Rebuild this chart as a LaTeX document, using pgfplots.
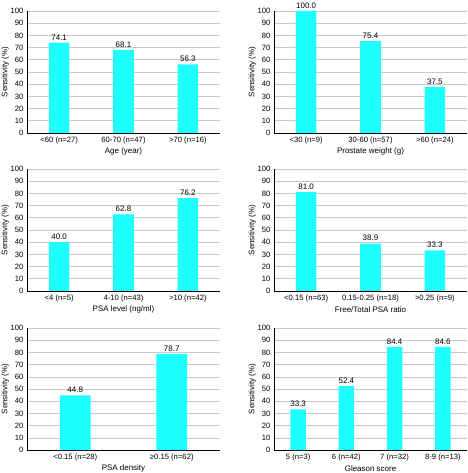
\documentclass[border=0pt]{standalone}
\usepackage{fontspec}
\setmainfont{Liberation Sans}
\usepackage{pgfplots}
\pgfplotsset{compat=1.18}
\definecolor{barcyan}{RGB}{30,255,255}
\definecolor{gridgrey}{RGB}{200,200,200}
\pgfplotsset{
  panel/.style={
    scale only axis, width=193bp, height=122bp,
    anchor=south west,
    ymin=0, ymax=100, ytick={0,10,...,100},
    xtick=data,
    axis x line*=bottom, axis y line*=left,
    axis line style={black, line width=0.8pt},
    ymajorgrids, grid style={gridgrey, line width=0.6pt},
    major tick length=0pt,
    tick label style={font=\fontsize{7.7}{8}\selectfont},
    label style={font=\fontsize{8}{9}\selectfont},
    /pgf/number format/assume math mode=true,
    ylabel={Sensitivity (\%)},
    ylabel style={at={(axis description cs:-0.112,0.5)}, anchor=center},
    xlabel style={at={(axis description cs:0.5,0)}, anchor=center, yshift=-18.5bp},
    ybar, bar width=0.32,
    clip=false,
    nodes near coords={\pgfmathprintnumber[fixed,fixed zerofill,precision=1,assume math mode=true]{\pgfplotspointmeta}},
    every node near coord/.append style={font=\fontsize{8}{9}\selectfont, black, yshift=-1pt},
  },
  cbar/.style={fill=barcyan, draw=none},
}
\begin{document}
\begin{tikzpicture}
\useasboundingbox (0,0) rectangle (468bp,473bp);
% Row 1 left
\begin{axis}[panel, at={(27bp,340bp)}, xmin=-0.5, xmax=2.5,
  xticklabels={<60 (n=27), 60-70 (n=47), >70 (n=16)}, xlabel={Age (year)}]
\addplot[cbar] coordinates {(0,74.1) (1,68.1) (2,56.3)};
\end{axis}
% Row 1 right
\begin{axis}[panel, at={(274bp,340bp)}, xmin=-0.5, xmax=2.5,
  xticklabels={<30 (n=9), 30-60 (n=57), >60 (n=24)}, xlabel={Prostate weight (g)}]
\addplot[cbar] coordinates {(0,100.0) (1,75.4) (2,37.5)};
\end{axis}
% Row 2 left
\begin{axis}[panel, at={(27bp,182bp)}, xmin=-0.5, xmax=2.5,
  xticklabels={<4 (n=5), 4-10 (n=43), >10 (n=42)}, xlabel={PSA level (ng/ml)}]
\addplot[cbar] coordinates {(0,40.0) (1,62.8) (2,76.2)};
\end{axis}
% Row 2 right
\begin{axis}[panel, at={(274bp,182bp)}, xmin=-0.5, xmax=2.5,
  xticklabels={<0.15 (n=63), 0.15-0.25 (n=18), >0.25 (n=9)}, xlabel={Free/Total PSA ratio}]
\addplot[cbar] coordinates {(0,81.0) (1,38.9) (2,33.3)};
\end{axis}
% Row 3 left
\begin{axis}[panel, at={(27bp,23bp)}, xmin=-0.5, xmax=1.5,
  xticklabels={<0.15 (n=28), ≥0.15 (n=62)}, xlabel={PSA density}]
\addplot[cbar] coordinates {(0,44.8) (1,78.7)};
\end{axis}
% Row 3 right
\begin{axis}[panel, at={(274bp,23bp)}, xmin=-0.5, xmax=3.5,
  xticklabels={5 (n=3), 6 (n=42), 7 (n=32), 8-9 (n=13)}, xlabel={Gleason score}]
\addplot[cbar] coordinates {(0,33.3) (1,52.4) (2,84.4) (3,84.6)};
\end{axis}
\end{tikzpicture}
\end{document}
